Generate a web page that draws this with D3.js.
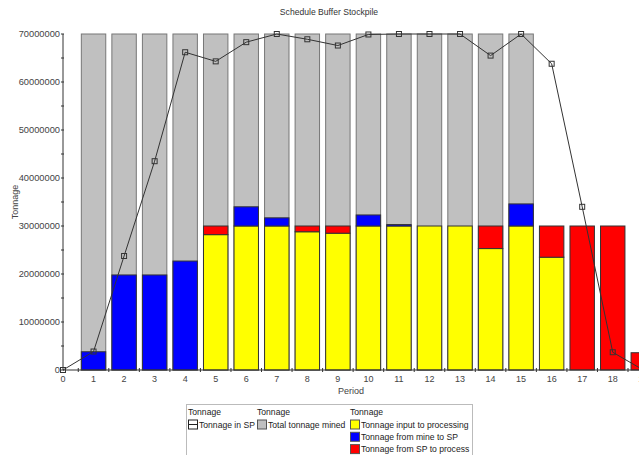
<!DOCTYPE html>
<html><head><meta charset="utf-8">
<script src="https://cdn.jsdelivr.net/npm/d3@7"></script>
<style>
html,body{margin:0;padding:0;background:#fff;}
text{font-family:"Liberation Sans",Arial,sans-serif;}
</style></head>
<body>
<script>
const periods = [0,1,2,3,4,5,6,7,8,9,10,11,12,13,14,15,16,17,18,19];
const tonnageInSP = [0,3.85e6,23.75e6,43.5e6,66.2e6,64.3e6,68.3e6,70e6,68.9e6,67.6e6,69.9e6,70e6,70e6,70e6,65.5e6,70e6,63.8e6,34.0e6,3.7e6,0];
const totalMined = [0,70e6,70e6,70e6,70e6,70e6,70e6,70e6,70e6,70e6,70e6,70e6,70e6,70e6,70e6,70e6,0,0,0,0];
const inputToProcessing = [0,0,0,0,0,28.2e6,30e6,30e6,28.8e6,28.5e6,30e6,30e6,30e6,30e6,25.3e6,30e6,23.5e6,0,0,0];
const mineToSP = [0,3.8e6,19.8e6,19.8e6,22.7e6,0,4.0e6,1.7e6,0,0,2.3e6,0.3e6,0,0,0,4.6e6,0,0,0,0];
const spToProcess = [0,0,0,0,0,1.8e6,0,0,1.2e6,1.5e6,0,0,0,0,4.7e6,0,6.5e6,30e6,30e6,3.6e6];
const yTicks = [0,10e6,20e6,30e6,40e6,50e6,60e6,70e6];
const title = "Schedule Buffer Stockpile";
const seriesNames = ["Tonnage in SP","Total tonnage mined","Tonnage input to processing","Tonnage from mine to SP","Tonnage from SP to process"];
const seriesColors = ["none","#c0c0c0","#ffff00","#0000ff","#ff0000"];

const W=639,H=455;
const svg=d3.select("body").append("svg").attr("width",W).attr("height",H);
svg.append("rect").attr("width",W).attr("height",H).attr("fill","#fff");

const x=d3.scaleLinear().domain([0,18.86]).range([63,639]);
const y=d3.scaleLinear().domain([0,70e6]).range([370,34]);
const bw=x(0.8)-x(0);

// title
svg.append("text").attr("x",329).attr("y",15).attr("text-anchor","middle").attr("font-size",8.6).attr("fill","#333").text(title);

// grey bars
const g=svg.append("g");
const barData=periods.filter(p=>p>0);
g.selectAll(".grey").data(barData.filter(p=>totalMined[p]>0)).join("rect")
 .attr("x",p=>x(p)-bw/2).attr("width",bw)
 .attr("y",p=>y(totalMined[p])).attr("height",p=>y(0)-y(totalMined[p]))
 .attr("fill","#c0c0c0").attr("stroke","#777").attr("stroke-width",1);

// stacked
const rows=barData.map(p=>({p, a:inputToProcessing[p], b:mineToSP[p], c:spToProcess[p]}));
const stack=d3.stack().keys(["a","b","c"])(rows);
const cols=["#ffff00","#0000ff","#ff0000"];
stack.forEach((layer,i)=>{
  g.selectAll(".s"+i).data(layer.filter(d=>d[1]-d[0]>0)).join("rect")
   .attr("x",d=>x(d.data.p)-bw/2).attr("width",bw)
   .attr("y",d=>y(d[1])).attr("height",d=>y(d[0])-y(d[1]))
   .attr("fill",cols[i]).attr("stroke","#333").attr("stroke-width",1);
});

// axes
const ax=svg.append("g").attr("stroke","#333").attr("fill","none");
ax.append("line").attr("x1",63).attr("x2",63).attr("y1",y(70e6)).attr("y2",370);
ax.append("line").attr("x1",63).attr("x2",639).attr("y1",370).attr("y2",370);
d3.range(0,70e6+1,5e6).forEach(v=>{
  ax.append("line").attr("x1",61).attr("x2",64).attr("y1",y(v)).attr("y2",y(v));
});
yTicks.forEach(v=>{
  svg.append("text").attr("x",60).attr("y",y(v)+3.3).attr("text-anchor","end").attr("font-size",9.3).attr("fill","#444").text(v);
});
periods.forEach(p=>{
  ax.append("line").attr("x1",x(p+0.5)).attr("x2",x(p+0.5)).attr("y1",368).attr("y2",372);
  svg.append("text").attr("x",x(p)).attr("y",382).attr("text-anchor","middle").attr("font-size",9).attr("fill","#444").text(p);
});
svg.append("text").attr("x",351).attr("y",393.5).attr("text-anchor","middle").attr("font-size",9).attr("fill","#444").text("Period");
svg.append("text").attr("transform","translate(18,202) rotate(-90)").attr("text-anchor","middle").attr("font-size",9).attr("fill","#444").text("Tonnage");

// line
const line=d3.line().x((d,i)=>x(periods[i])).y(d=>y(d));
svg.append("path").datum(tonnageInSP).attr("d",line).attr("fill","none").attr("stroke","#333").attr("stroke-width",1);
svg.selectAll(".mk").data(tonnageInSP).join("rect")
 .attr("x",(d,i)=>x(periods[i])-2.5).attr("y",d=>y(d)-2.5).attr("width",5).attr("height",5)
 .attr("fill","none").attr("stroke","#333").attr("stroke-width",1);

// legend
const L=svg.append("g");
L.append("rect").attr("x",186.5).attr("y",404.5).attr("width",286).attr("height",60).attr("fill","#fff").attr("stroke","#bbb");
const fs=8.6;
const colX=[188,257,350];
colX.forEach(cx=>L.append("text").attr("x",cx).attr("y",414.5).attr("font-size",fs).attr("fill","#222").text("Tonnage"));
const items=[[0,0],[1,1],[2,2],[2,3],[2,4]];
const rowOf=[0,0,0,1,2];
items.forEach(([c,s],k)=>{
  const yy=419.5+rowOf[k]*12.3;
  const sx=colX[c];
  if(s===0){
    L.append("rect").attr("x",sx+0.5).attr("y",yy+0.5).attr("width",9).attr("height",9).attr("fill","#fff").attr("stroke","#222");
    L.append("line").attr("x1",sx).attr("x2",sx+10).attr("y1",yy+5).attr("y2",yy+5).attr("stroke","#222");
  } else {
    L.append("rect").attr("x",sx+0.5).attr("y",yy+0.5).attr("width",9).attr("height",9).attr("fill",seriesColors[s]).attr("stroke","#555");
  }
  L.append("text").attr("x",sx+11).attr("y",yy+8.3).attr("font-size",fs).attr("fill","#222").text(seriesNames[s]);
});
</script>
</body></html>
